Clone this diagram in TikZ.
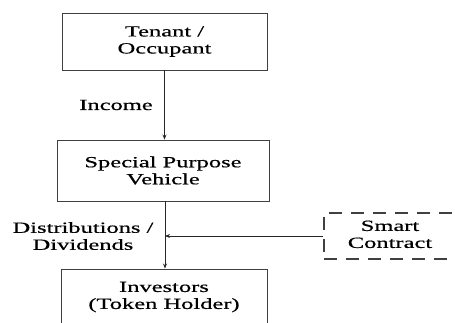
\documentclass[tikz,border=0pt]{standalone}
\usepackage{fontspec}
\setmainfont{Liberation Serif}[FakeStretch=1.58,FakeBold=0.5]
\usetikzlibrary{arrows.meta}
\begin{document}
\begin{tikzpicture}[x=1pt,y=-1pt,
  every node/.style={font=\fontsize{15.5}{17}\selectfont, text=black, inner sep=0pt},
  box/.style={draw=black!75, line width=0.9pt, align=center},
  dbox/.style={draw=black!75, line width=1.5pt, dash pattern=on 13pt off 9pt},
  arr/.style={draw=black!85, line width=0.9pt, -{Stealth[length=5pt,width=4pt]}},
  lbl/.style={align=center}]
\useasboundingbox (0,0) rectangle (455,323);
\clip (0,0) rectangle (455,323);
\node[box, minimum width=205pt, minimum height=57pt] (tenant) at (164.5,41.5) {Tenant /\\Occupant};
\node[box, minimum width=212pt, minimum height=61pt] (spv) at (163,170.5) {Special Purpose\\Vehicle};
\node[box, minimum width=206pt, minimum height=56pt] (inv) at (164,297) {Investors\\(Token Holder)};
\node[dbox, minimum width=162pt, minimum height=46pt] (smart) at (405,236) {\begin{tabular}{@{}c@{}}Smart\\Contract\end{tabular}\hspace*{30pt}};
\node[lbl] (income) at (116,105) {Income};
\node[lbl] (dist) at (83,236) {Distributions /\\Dividends};
\coordinate (j) at (165,236);
\draw[arr] (tenant.south) -- (tenant.south |- spv.north);
\draw[arr] (spv.south -| j) -- (inv.north -| j);
\draw[arr] (smart.west) -- (j);
\end{tikzpicture}
\end{document}
